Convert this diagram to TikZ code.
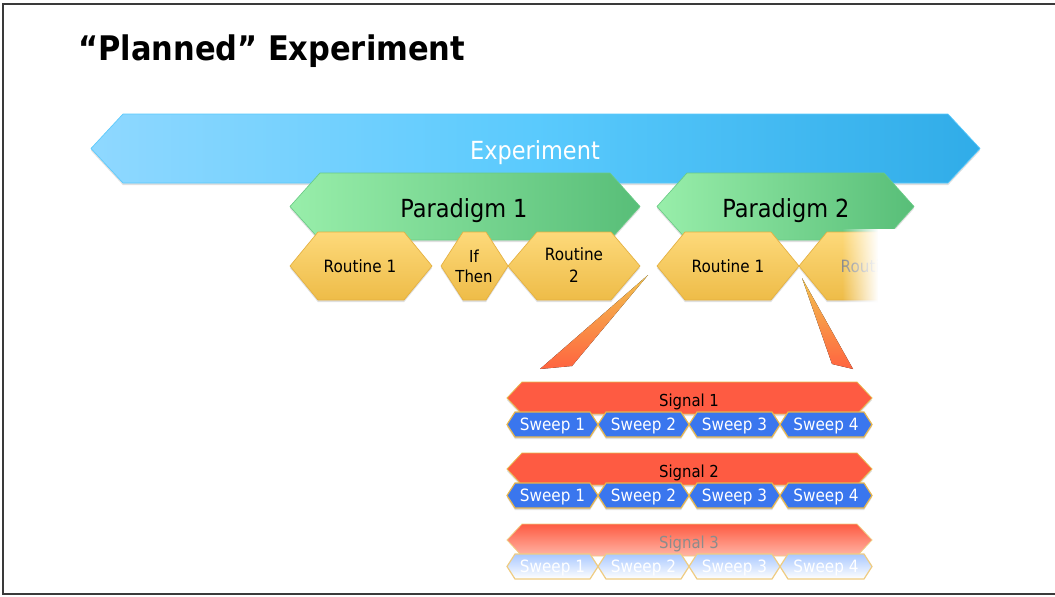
\documentclass[tikz,border=0pt]{standalone}
\usepackage{fontspec}
\setmainfont{DejaVu Sans Condensed}
\usetikzlibrary{shadows,fadings}
\tikzfading[name=fadein, left color=transparent!100, right color=transparent!0]
\definecolor{expL}{HTML}{8FD8FF}
\definecolor{expM}{HTML}{5ACAFD}
\definecolor{expR}{HTML}{30ACE8}
\definecolor{parL}{HTML}{98EEAA}
\definecolor{parR}{HTML}{58BE78}
\definecolor{parB}{HTML}{6ACB86}
\definecolor{rouT}{HTML}{FDD97A}
\definecolor{rouB}{HTML}{EEBC48}
\definecolor{rouD}{HTML}{E4B040}
\definecolor{sigF}{HTML}{FE5B42}
\definecolor{sigL}{HTML}{FFB5A6}
\definecolor{swpF}{HTML}{3A76EE}
\definecolor{swpL}{HTML}{A9C8FF}
\definecolor{gold}{HTML}{E8B64C}
\definecolor{calT}{HTML}{F2C24E}
\definecolor{calB}{HTML}{FF6440}
\definecolor{framec}{HTML}{3A3A3A}
\newcommand{\hexshape}[6]{%
  \path[#1] (#2,{(#4+#5)/2}) -- ({#2+#6},#4) -- ({#3-#6},#4) -- (#3,{(#4+#5)/2}) -- ({#3-#6},#5) -- ({#2+#6},#5) -- cycle;}
\tikzset{
  shad/.style={drop shadow={opacity=.25, shadow xshift=0pt, shadow yshift=-1.6pt}},
  expbox/.style={shad, left color=expL, right color=expR, middle color=expM, draw=expM, line width=.5pt},
  parbox/.style={shad, left color=parL, right color=parR, draw=parB, line width=.5pt},
  roubox/.style={shad, top color=rouT, bottom color=rouB, draw=rouD, line width=.5pt},
  sigbox/.style={shad, fill=sigF, draw=gold, line width=.6pt},
  sigfade/.style={top color=sigF, bottom color=sigL, draw=gold!70, line width=.6pt},
  swpbox/.style={shad, fill=swpF, draw=gold, line width=.9pt},
  swpfade/.style={top color=swpL, bottom color=white, draw=gold!70, line width=.9pt},
  calbox/.style={top color=calT, bottom color=calB},
  title/.style={font=\bfseries\fontsize{25.4}{30}\selectfont, inner sep=0pt},
  biglbl/.style={font=\fontsize{18.7}{22}\selectfont, inner sep=0pt},
  midlbl/.style={font=\fontsize{12.7}{16}\selectfont, inner sep=0pt, align=center},
}
\begin{document}
\begin{tikzpicture}[x=0.75pt,y=-0.75pt]
\useasboundingbox (0,0) rectangle (1055,596);
\fill[white] (0,0) rectangle (1055,596);
\draw[framec, line width=1.5pt] (1055,4) -- (3,4) -- (3,594) -- (1055,594);

\node[title, anchor=base west] (title) at (78,60) {“Planned” Experiment};

% Experiment
\hexshape{expbox}{91}{980}{114}{183}{32}
\node[biglbl, text=white] (exp) at (535,153) {Experiment};

% Paradigms
\hexshape{parbox}{290}{640}{173}{240}{30}
\node[biglbl] (par1) at (464,210.5) {Paradigm 1};
\hexshape{parbox}{657}{914}{173}{240}{30}
\node[biglbl] (par2) at (786,210.5) {Paradigm 2};

% Routines
\hexshape{roubox}{290}{432}{232}{300}{28}
\node[midlbl] (r11) at (360,266) {Routine 1};
\hexshape{roubox}{441}{508}{232}{300}{22}
\node[midlbl, font=\fontsize{12.4}{15}\selectfont] (ifthen) at (474,266) {If\\Then};
\hexshape{roubox}{508}{640}{232}{300}{29}
\node[midlbl] (r12) at (574,265) {Routine\\2};
\hexshape{roubox}{657}{799}{232}{300}{28}
\node[midlbl] (r21) at (728,266) {Routine 1};
\hexshape{roubox}{799}{950}{232}{300}{28}
\node[midlbl, text=black!45] (r22) at (877,266) {Routine 2};
\fill[white, path fading=fadein] (842,229) rectangle (878,306);
\fill[white] (877.5,229) rectangle (1000,306);

% Callouts
\fill[calbox] (648,275) -- (540,369) -- (572,366) -- cycle;
\fill[calbox] (802,278) -- (853,369) -- (832,364) -- cycle;

% Signals and sweeps
\foreach \k/\yt/\sg/\sw in {1/382/sigbox/swpbox, 2/453/sigbox/swpbox}{
  \hexshape{\sg}{507}{872}{\yt}{\yt+32}{15}
  \node[midlbl, font=\fontsize{12.4}{15}\selectfont] (sig\k) at (689,\yt+19.5) {Signal \k};
  \foreach \j/\a/\b in {1/507/598, 2/598/689, 3/689/780, 4/780/872}{
    \hexshape{\sw}{\a}{\b}{\yt+30}{\yt+55}{8}
    \node[midlbl, text=white] (sw\k\j) at ({(\a+\b)/2},\yt+44) {Sweep \j};
  }
}
\hexshape{sigfade}{507}{872}{524}{556}{15}
\node[midlbl, font=\fontsize{12.4}{15}\selectfont, text=black!45] (sig3) at (689,543.5) {Signal 3};
\foreach \j/\a/\b in {1/507/598, 2/598/689, 3/689/780, 4/780/872}{
  \hexshape{swpfade}{\a}{\b}{554}{579}{8}
  \node[midlbl, text=white] (sw3\j) at ({(\a+\b)/2},568) {Sweep \j};
}
\end{tikzpicture}
\end{document}
